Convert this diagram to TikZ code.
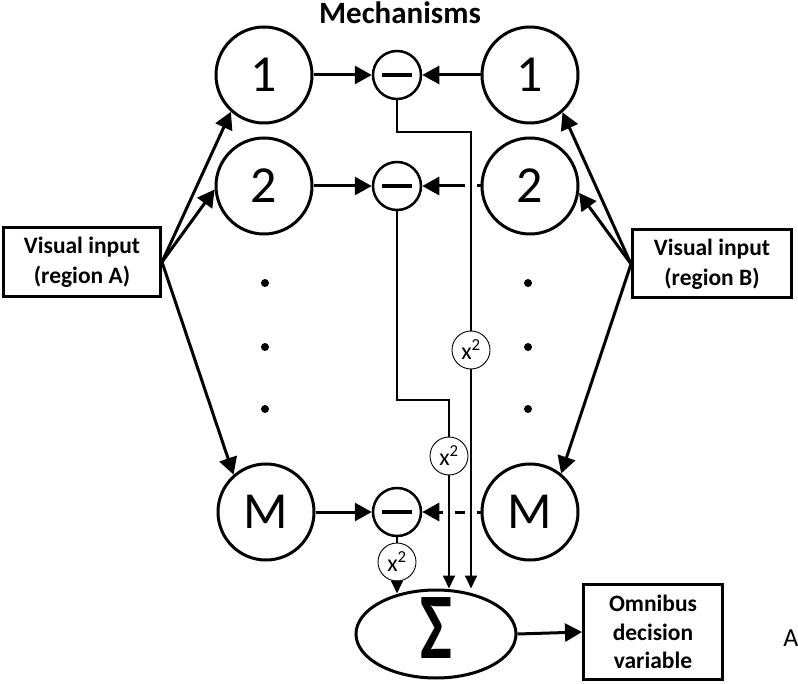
\documentclass[tikz,border=0pt]{standalone}
\usepackage{fontspec}
\setmainfont{Carlito}
\usetikzlibrary{arrows.meta,shapes.geometric,calc}
\begin{document}
\begin{tikzpicture}[x=1pt,y=-1pt,
  big/.style={circle,draw,line width=3pt,minimum size=96pt,inner sep=0pt,font=\fontsize{52}{54}\selectfont},
  minus/.style={circle,draw,line width=2.5pt,minimum size=48pt,inner sep=0pt},
  sq/.style={circle,draw,line width=0.9pt,minimum size=38pt,inner sep=0pt,fill=white,font=\fontsize{24}{26}\selectfont},
  inbox/.style={draw,line width=3pt,align=center,inner sep=0pt,font=\bfseries\fontsize{23.5}{30}\selectfont},
  arr/.style={-{Triangle[length=17pt,width=18pt]},line width=3pt},
  wire/.style={line width=1.8pt},
  warr/.style={wire,-{Triangle[length=13pt,width=12pt]}},
  halo/.style={fill=white}
]
\useasboundingbox (0,0) rectangle (798,684);

\node[font=\bfseries\fontsize{31}{33}\selectfont] (title) at (400,13) {Mechanisms};

\node[big] (c1) at (264,75) {1};
\node[big] (c2) at (264,186) {2};
\node[big] (cM) at (266,512) {M};
\node[big] (d1) at (530,75) {1};
\node[big] (d2) at (530,186) {2};
\node[big] (dM) at (530,512) {M};

\node[minus] (m1) at (397,75) {\rule{30pt}{3.5pt}};
\node[minus] (m2) at (397,186) {\rule{30pt}{3.5pt}};
\node[minus] (mM) at (397,512) {\rule{30pt}{3.5pt}};

\foreach \yy in {283,347,409} {
  \fill (265,\yy) circle (4pt);
  \fill (528,\yy) circle (4pt);
}

\node[inbox,minimum width=157pt,minimum height=69pt] (A) at (82,262) {Visual input\\(region A)};
\node[inbox,minimum width=159pt,minimum height=68pt] (B) at (712,264) {Visual input\\(region B)};
\node[inbox,minimum width=139pt,minimum height=95pt,font=\bfseries\fontsize{23.5}{28.5}\selectfont] (out) at (653,632) {Omnibus\\decision\\variable};
\node[font=\fontsize{26}{28}\selectfont] (lab) at (791,638) {A};

\node[ellipse,draw,line width=3pt,minimum width=160pt,minimum height=88pt,inner sep=0pt,font=\bfseries\fontsize{94}{94}\selectfont] (sig) at (436,634) {\raisebox{-24pt}[0pt][0pt]{\scalebox{0.72}[1]{Σ}}};

% inputs to mechanisms
\draw[arr] (A.east) -- (c1.228);
\draw[arr] (A.east) -- (c2.184);
\draw[arr] (A.east) -- (cM.131);
\draw[arr] (B.west) -- (d1.311);
\draw[arr] (B.west) -- (d2.352);
\draw[arr] (B.west) -- (dM.51);

% to difference nodes
\draw[arr] (c1.east) -- (m1.west);
\draw[arr] (c2.east) -- (m2.west);
\draw[arr] (cM.east) -- (mM.west);
\draw[arr] (d1.west) -- (m1.east);
\draw[arr] (d2.west) -- (m2.east);
\draw[arr] (dM.west) -- (mM.east);

% squaring nodes
\node[sq] (q1) at (471,350) {x\textsuperscript{2}};
\node[sq] (q2) at (449,456) {x\textsuperscript{2}};
\node[sq] (qM) at (397,562) {x\textsuperscript{2}};

% gaps where wires cross
\fill[halo] ($(q1 |- m2)+(-6,-4)$) rectangle ++(12,8);
\fill[halo] ($(q1 |- mM)+(-6,-4)$) rectangle ++(12,8);
\fill[halo] ($(q2 |- mM)+(-6,-4)$) rectangle ++(12,8);

% wires
\draw[wire] (m1.south) -- ($(m1.south)+(0,32)$) -| (q1.north);
\draw[warr] (q1.south) -- (q1.south |- sig.north);
\draw[wire] (m2.south) -- (397,400) -| (q2.north);
\draw[warr] (q2.south) -- (q2.south |- sig.north);
\draw[wire] (mM.south) -- (qM.north);
\draw[warr] (qM.south) -- ($(qM.south |- sig.north)+(0,5)$);

\draw[arr] (sig.east) -- (out.west);
\end{tikzpicture}
\end{document}
